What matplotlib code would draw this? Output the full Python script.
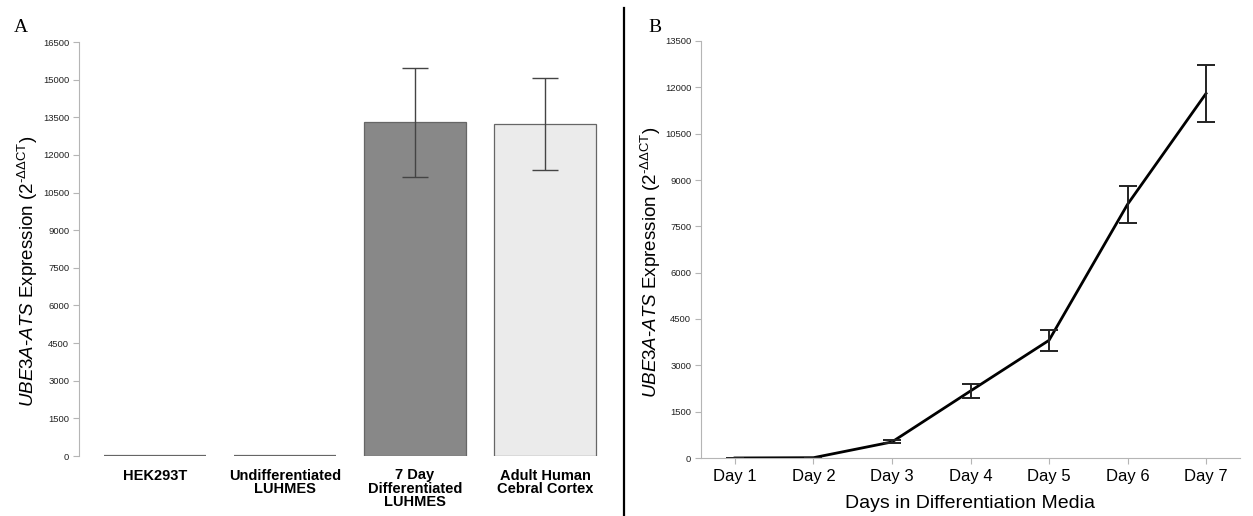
import numpy as np
import matplotlib
matplotlib.use("Agg")
import matplotlib.pyplot as plt
from matplotlib.lines import Line2D

plt.rcParams['font.family'] = ['Liberation Sans', 'DejaVu Sans']
plt.rcParams['mathtext.fontset'] = 'custom'
plt.rcParams['mathtext.rm'] = 'Liberation Sans'
plt.rcParams['mathtext.it'] = 'Liberation Sans:italic'

# panel A data
groups = ['HEK293T', 'Undifferentiated\nLUHMES', '7 Day\nDifferentiated\nLUHMES',
          'Adult Human\nCebral Cortex']
group_vals = [0, 0, 13300, 13220]
group_err = [0, 0, 2170, 1840]
group_colors = ['#bdbdbd', '#bdbdbd', '#888888', '#ebebeb']

# panel B data
days = ['Day 1', 'Day 2', 'Day 3', 'Day 4', 'Day 5', 'Day 6', 'Day 7']
day_vals = [1, 10, 520, 2170, 3810, 8210, 11800]
day_err = [0, 0, 50, 215, 340, 600, 920]

ylab = r'$\mathit{UBE3A}$-$\mathit{ATS}$ Expression (2$^{\text{-ΔΔCT}}$)'
spine_c = '#b5b5b5'

fig = plt.figure(figsize=(12.53, 5.16), dpi=100)

# ---- A ----
axA = fig.add_axes([79/1253, 60/516, 542/1253, 414/516])
x = np.arange(len(groups))
edge_w = [1.6, 1.6, 0.9, 0.9]
axA.bar(x, group_vals, width=0.79, color=group_colors, edgecolor='#666666', linewidth=edge_w)
axA.errorbar(x[2:], group_vals[2:], yerr=group_err[2:], fmt='none', ecolor='#444444',
             elinewidth=1.0, capsize=9.5, capthick=1.0)
axA.set_xlim(-0.585, 3.585)
axA.set_ylim(0, 16500)
axA.set_yticks(np.arange(0, 16501, 1500))
axA.set_xticks(x)
axA.set_xticklabels(groups, fontsize=10.5, fontweight='bold', linespacing=0.95)
axA.tick_params(axis='x', length=0, pad=9)
axA.tick_params(axis='y', labelsize=6.8, length=4, color=spine_c, labelcolor='#222222', pad=3)
for s in ['top', 'right', 'bottom']:
    axA.spines[s].set_visible(False)
axA.spines['left'].set_color(spine_c)
axA.set_ylabel(ylab, fontsize=13.5)
axA.yaxis.set_label_coords(-0.072, 0.445)

# ---- B ----
axB = fig.add_axes([701/1253, 58/516, 539/1253, 417/516])
xd = np.arange(1, len(days) + 1)
axB.plot(xd, day_vals, color='black', linewidth=2.0)
axB.errorbar(xd, day_vals, yerr=day_err, fmt='none', ecolor='#222222',
             elinewidth=1.4, capsize=6.5, capthick=1.4)
axB.set_xlim(0.567, 7.433)
axB.set_ylim(0, 13500)
axB.set_yticks(np.arange(0, 13501, 1500))
axB.set_xticks(xd)
axB.set_xticklabels(days, fontsize=12)
axB.tick_params(axis='x', length=4, color=spine_c, pad=4)
axB.tick_params(axis='y', labelsize=6.8, length=4, color=spine_c, labelcolor='#222222', pad=3)
for s in ['top', 'right']:
    axB.spines[s].set_visible(False)
axB.spines['left'].set_color(spine_c)
axB.spines['bottom'].set_color(spine_c)
axB.set_ylabel(ylab, fontsize=13.5)
axB.yaxis.set_label_coords(-0.07, 0.47)
axB.set_xlabel('Days in Differentiation Media', fontsize=14, labelpad=8)

# panel letters and divider
fig.text(14/1253, 1 - 28/516, 'A', fontsize=14, family='Liberation Serif', va='center')
fig.text(648/1253, 1 - 28/516, 'B', fontsize=14, family='Liberation Serif', va='center')
fig.add_artist(Line2D([624/1253, 624/1253], [0, 1 - 8/516], transform=fig.transFigure,
                      color='black', linewidth=1.6))

fig.savefig('out.png', dpi=100, facecolor='white')
